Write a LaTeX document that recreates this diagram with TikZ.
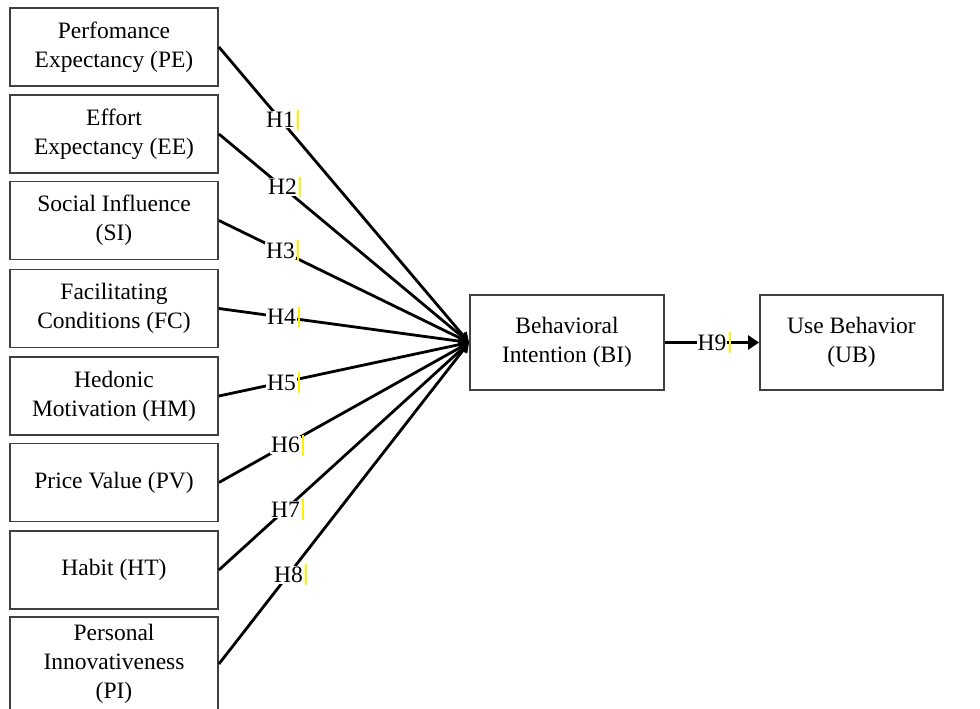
\documentclass[tikz,border=0pt]{standalone}
\usepackage{fontspec}
\setmainfont{Liberation Serif}
\usetikzlibrary{arrows.meta}
\begin{document}
\begin{tikzpicture}[x=1pt,y=-1pt,
  box/.style={draw=black!75, line width=1.8pt, align=center, inner sep=0pt,
    minimum width=208pt, minimum height=78pt, font=\fontsize{23.5}{29}\selectfont},
  bigbox/.style={box, minimum height=95pt},
  hlab/.style={fill=white, inner sep=1pt, font=\fontsize{23.5}{29}\selectfont},
  conn/.style={line width=2.8pt, -{Triangle[length=10pt,width=10pt]}},
  hbar/.style={yellow, line width=2pt}
]
\useasboundingbox (0,0) rectangle (980,709);
\node[box] (pe) at (114,47) {Perfomance\\Expectancy (PE)};
\node[box] (ee) at (114,134) {Effort\\Expectancy (EE)};
\node[box] (si) at (114,220.5) {Social Influence\\(SI)};
\node[box] (fc) at (114,308.5) {Facilitating\\Conditions (FC)};
\node[box] (hm) at (114,396) {Hedonic\\Motivation (HM)};
\node[box] (pv) at (114,482.5) {Price Value (PV)};
\node[box] (ht) at (114,570) {Habit (HT)};
\node[box, minimum height=94pt] (pi) at (114,664) {Personal\\Innovativeness\\(PI)};
\node[bigbox, minimum width=194pt] (bi) at (567,342.5) {Behavioral\\Intention (BI)};
\node[bigbox, minimum width=183pt] (ub) at (851.5,342.5) {Use Behavior\\(UB)};

\foreach \src/\lab/\p in {pe/H1/0.246, ee/H2/0.254, si/H3/0.246, fc/H4/0.25,
    hm/H5/0.25, pv/H6/0.266, ht/H7/0.266, pi/H8/0.278} {
  \draw[conn] (\src.east) -- (bi.west)
    node[hlab, pos=\p] (l\lab) {\lab};
  \draw[hbar] ([xshift=1pt]l\lab.north east) -- ([xshift=1pt]l\lab.south east);
}
\draw[line width=2.8pt, -{Triangle[length=11pt,width=14pt]}] (bi.east) -- (ub.west)
  node[hlab, pos=0.5] (lH9) {H9};
\draw[hbar] ([xshift=1pt]lH9.north east) -- ([xshift=1pt]lH9.south east);
\end{tikzpicture}
\end{document}
